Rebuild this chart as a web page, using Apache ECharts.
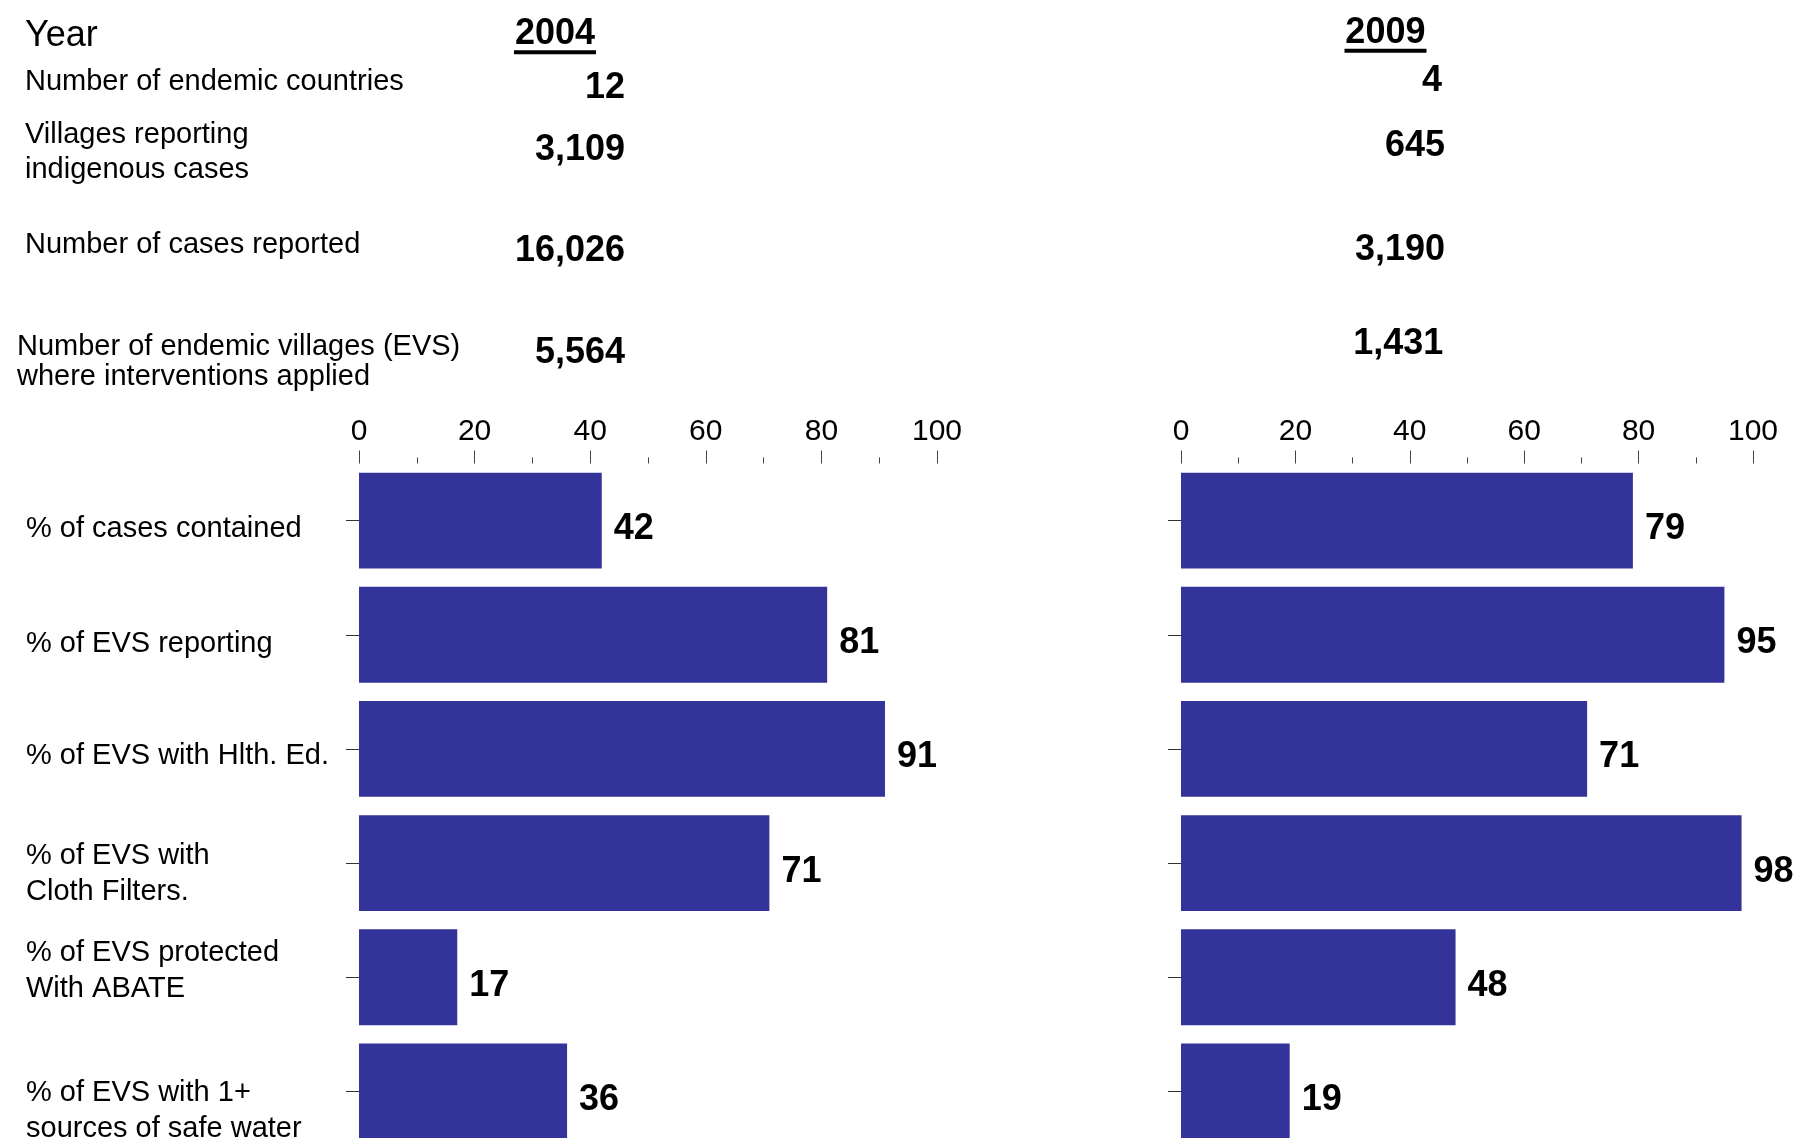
<!DOCTYPE html>
<html><head><meta charset="utf-8">
<script src="https://cdn.jsdelivr.net/npm/echarts@6/dist/echarts.min.js"></script>
<style>html,body{margin:0;padding:0;background:#fff}#c{width:1801px;height:1138px}</style>
</head><body><div id="c"></div>
<script>
// ---- data ----
const categories = ['% of cases contained', '% of EVS reporting', '% of EVS with Hlth. Ed.', '% of EVS with\nCloth Filters.', '% of EVS protected\nWith ABATE', '% of EVS with 1+\nsources of safe water'];
const values2004 = [42, 81, 91, 71, 17, 36];
const values2009 = [79, 95, 71, 98, 48, 19];
const years = ['2004', '2009'];
const headerLabel = 'Year';
const summaryLabels = ['Number of endemic countries', 'Villages reporting\nindigenous cases', 'Number of cases reported', 'Number of endemic villages (EVS)\nwhere interventions applied'];
const summary2004 = ['12', '3,109', '16,026', '5,564'];
const summary2009 = ['4', '645', '3,190', '1,431'];
const axisMin = 0, axisMax = 100, axisInterval = 20;

// ---- layout ----
const FONT = '"Liberation Sans", Arial, Helvetica, sans-serif';
const DY = 2.3;
const labelPos = [{x: 25, y: 79.3, lh: 35}, {x: 25, y: 150.2, lh: 35}, {x: 25, y: 242.7, lh: 35}, {x: 17, y: 360, lh: 30}];
const pos2004 = [{x: 625, y: 85.5}, {x: 625, y: 148.1}, {x: 625, y: 248.8}, {x: 625, y: 350.5}];
const pos2009 = [{x: 1442, y: 78.8}, {x: 1445, y: 143.8}, {x: 1445, y: 248.1}, {x: 1443.3, y: 341.5}];
// per-category vertical nudges of the axis labels (rich padding)
const labelPads = [[16, 0, 0, 0], [18, 0, 0, 0], [15, 0, 0, 0], [22, 0, 0, 0], [0, 0, 13, 0], [39, 0, 0, 0]];

function txt(text, x, y, opts) {
  return {
    type: 'text', x: x, y: y + DY, silent: true,
    style: {
      text: text, fill: '#000',
      font: (opts.bold ? 'bold ' : '') + opts.size + 'px ' + FONT,
      align: opts.align || 'left', textAlign: opts.align || 'left',
      verticalAlign: 'middle', textVerticalAlign: 'middle',
      lineHeight: opts.lh || opts.size
    }
  };
}

const graphics = [];
graphics.push(txt(headerLabel, 25, 33.8, {size: 36}));
graphics.push(txt(years[0], 555, 32, {size: 36, bold: true, align: 'center'}));
graphics.push(txt(years[1], 1385.4, 30.5, {size: 36, bold: true, align: 'center'}));
graphics.push({type: 'rect', silent: true, shape: {x: 514, y: 48 + DY, width: 82, height: 4}, style: {fill: '#000'}});
graphics.push({type: 'rect', silent: true, shape: {x: 1344.5, y: 46.5 + DY, width: 82, height: 4}, style: {fill: '#000'}});
summaryLabels.forEach((s, i) => graphics.push(txt(s, labelPos[i].x, labelPos[i].y, {size: 29, lh: labelPos[i].lh})));
summary2004.forEach((s, i) => graphics.push(txt(s, pos2004[i].x, pos2004[i].y, {size: 36, bold: true, align: 'right'})));
summary2009.forEach((s, i) => graphics.push(txt(s, pos2009[i].x, pos2009[i].y, {size: 36, bold: true, align: 'right'})));

const rich = {};
labelPads.forEach((p, i) => { rich['o' + i] = {fontSize: 29, fontFamily: FONT, color: '#000', lineHeight: 36, padding: p}; });

function xAxisCfg(gi) {
  return {
    type: 'value', gridIndex: gi, position: 'top', min: axisMin, max: axisMax, interval: axisInterval,
    axisLine: {show: false},
    axisTick: {show: true, length: 13, lineStyle: {color: '#444', width: 1}},
    minorTick: {show: true, splitNumber: 2, length: 6, lineStyle: {color: '#444', width: 1}},
    splitLine: {show: false},
    axisLabel: {fontSize: 30, fontFamily: FONT, color: '#000', margin: 17}
  };
}
function yAxisCfg(gi, showLabel) {
  return {
    type: 'category', gridIndex: gi, inverse: true, data: categories,
    axisLine: {show: false},
    axisTick: {show: true, alignWithLabel: true, length: 13, lineStyle: {color: '#333', width: 1}},
    axisLabel: {
      show: showLabel, align: 'left', margin: 333, fontSize: 29, fontFamily: FONT, color: '#000', lineHeight: 36,
      formatter: (v, i) => v.split('\n').map(l => '{o' + i + '|' + l + '}').join('\n'),
      rich: rich
    }
  };
}
function barSeries(gi, data) {
  return {
    type: 'bar', xAxisIndex: gi, yAxisIndex: gi, data: data, barCategoryGap: '16%',
    itemStyle: {color: '#333399'}, animation: false,
    label: {show: true, position: 'right', distance: 12, offset: [0, 8.5], color: '#000',
      fontSize: 36, fontWeight: 'bold', fontFamily: FONT}
  };
}

const chart = echarts.init(document.getElementById('c'), null, {renderer: 'canvas'});
chart.setOption({
  backgroundColor: '#fff',
  animation: false,
  grid: [
    {left: 359, top: 463.5, width: 578, height: 685, containLabel: false, outerBoundsMode: 'none'},
    {left: 1181, top: 463.5, width: 572, height: 685, containLabel: false, outerBoundsMode: 'none'}
  ],
  xAxis: [xAxisCfg(0), xAxisCfg(1)],
  yAxis: [yAxisCfg(0, true), yAxisCfg(1, false)],
  series: [barSeries(0, values2004), barSeries(1, values2009)],
  graphic: graphics
});
</script></body></html>
